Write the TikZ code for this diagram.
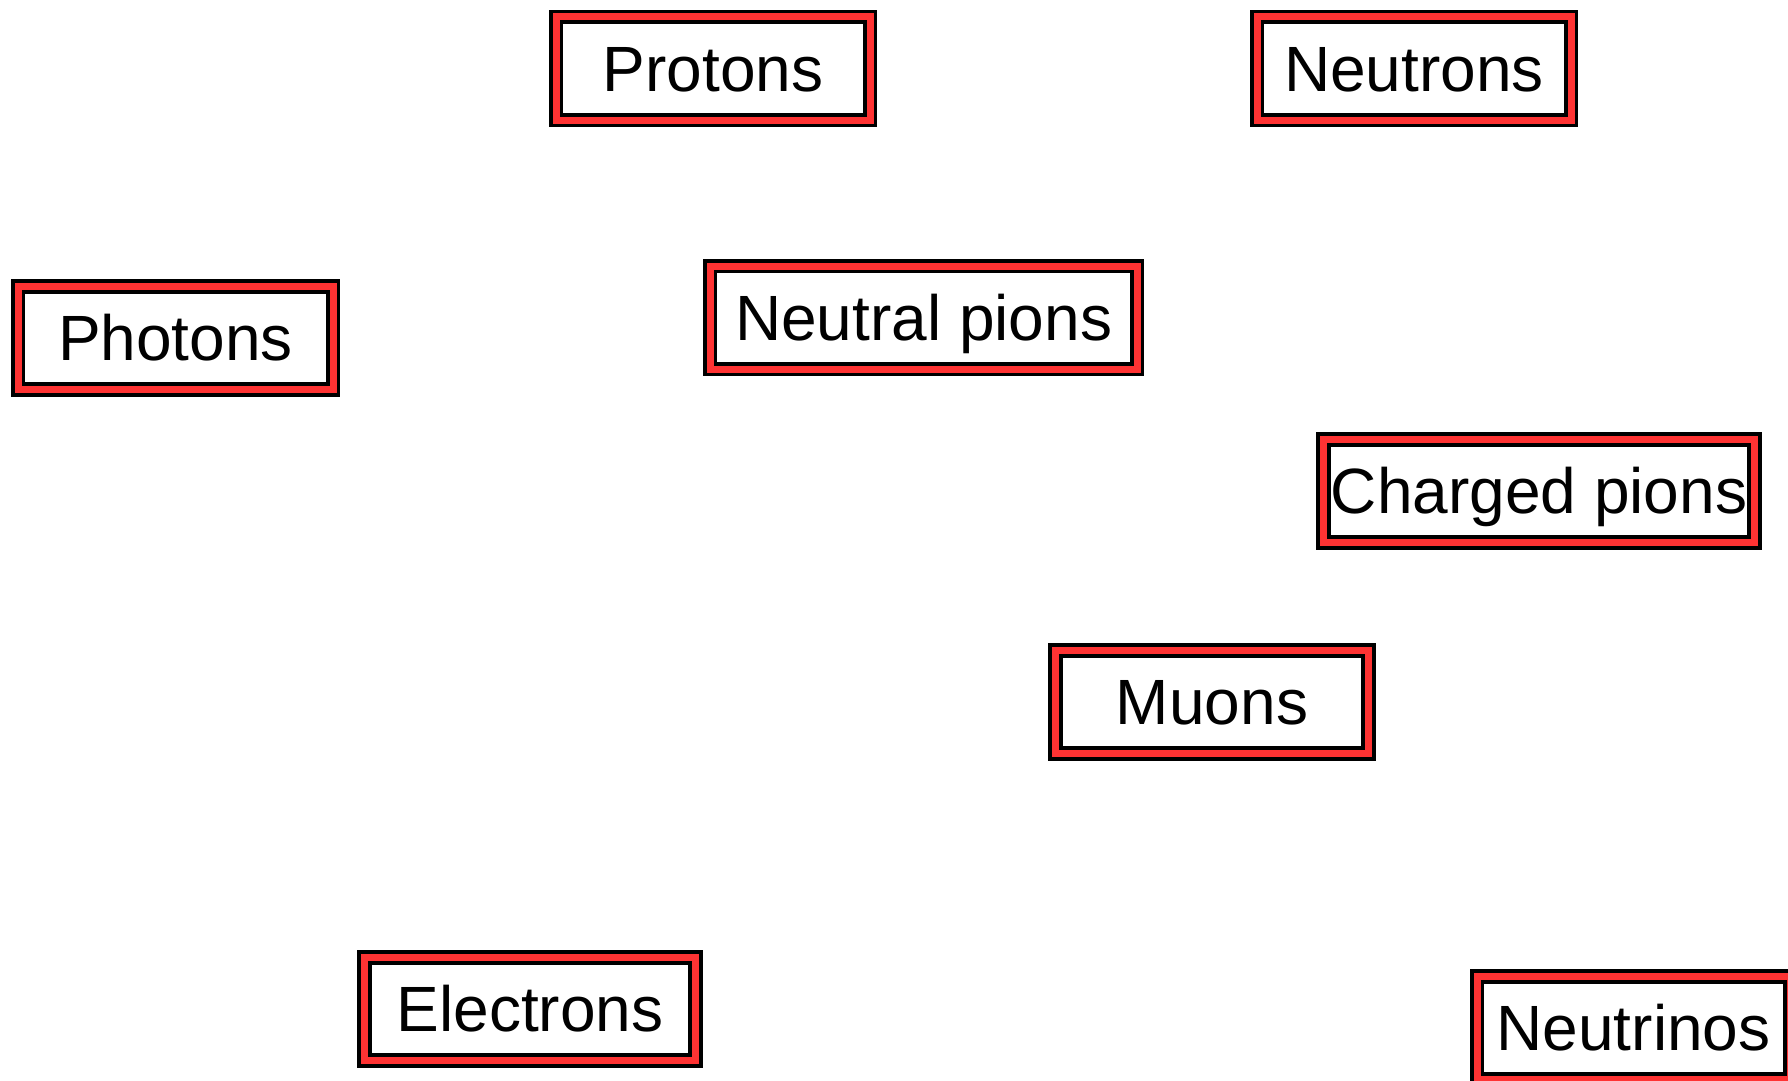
\documentclass[tikz,border=0pt]{standalone}
\usepackage{fontspec}
\setmainfont{Liberation Sans}
\definecolor{boxred}{RGB}{255,51,51}
\begin{document}
\begin{tikzpicture}[x=1pt,y=-1pt,
  particle/.style={draw=black, line width=3.8pt, double=boxred,
    double distance=7pt, fill=white, inner sep=0pt, outer sep=0pt,
    text height=45.5pt, text depth=0pt,
    font=\fontsize{64}{76}\selectfont,
    minimum height=103pt}]
  \useasboundingbox (0,0) rectangle (1788,1081);
  \node[particle, minimum width=314pt] (protons)   at (713,68.5)   {Protons};
  \node[particle, minimum width=314pt] (neutrons)  at (1414,68.5)  {Neutrons};
  \node[particle, minimum width=315pt] (photons)   at (175.5,338)  {Photons};
  \node[particle, minimum width=427pt] (npions)    at (923.6,317.6) {Neutral pions};
  \node[particle, minimum width=431pt] (cpions)    at (1539,491)   {Charged pions};
  \node[particle, minimum width=313pt] (muons)     at (1212,702)   {Muons};
  \node[particle, minimum width=331pt] (electrons) at (530,1009)   {Electrons};
  \node[particle, minimum width=313pt] (neutrinos) at (1633.5,1028) {Neutrinos};
\end{tikzpicture}
\end{document}
